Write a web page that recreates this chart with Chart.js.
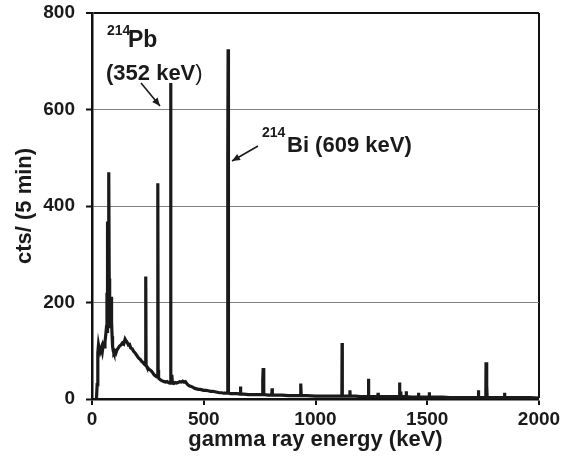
<!DOCTYPE html>
<html>
<head>
<meta charset="utf-8">
<script src="https://cdn.jsdelivr.net/npm/chart.js@4.4.1/dist/chart.umd.min.js"></script>
<style>
html,body{margin:0;padding:0;background:#fff;}
#wrap{width:565px;height:461px;position:relative;}
</style>
</head>
<body>
<div id="wrap"><canvas id="c" width="565" height="461"></canvas></div>
<script>
// Energies (keV) and counts per 5 min (10 values per line)
const energies = [
  20, 23, 26, 29, 32, 35, 38, 42, 46, 50,
  54, 58, 62, 65, 67, 68, 69, 70, 72, 74,
  75, 76, 77, 79, 81, 83, 86, 87, 88, 90,
  92, 95, 98, 102, 107, 112, 118, 124, 130, 136,
  142, 148, 153, 158, 163, 168, 173, 180, 186, 192,
  198, 204, 210, 216, 222, 228, 234, 239, 240, 241,
  242, 244, 248, 254, 260, 266, 272, 278, 284, 290,
  293, 294, 295, 296, 298, 300, 306, 312, 318, 324,
  330, 336, 342, 348, 351, 352, 353, 355, 357, 360,
  366, 372, 378, 385, 392, 400, 406, 412, 418, 424,
  430, 437, 444, 452, 460, 468, 476, 484, 492, 500,
  510, 520, 530, 540, 550, 560, 570, 580, 590, 600,
  606, 607, 608, 609, 610, 611, 613, 620, 635, 650,
  663, 664, 665, 666, 680, 700, 720, 740, 760, 763,
  764, 766, 768, 769, 790, 804, 805, 806, 807, 830,
  850, 880, 910, 932, 933, 935, 936, 960, 1000, 1030,
  1060, 1090, 1118, 1119, 1120, 1140, 1153, 1154, 1155, 1180,
  1200, 1220, 1235, 1236, 1238, 1239, 1260, 1279, 1280, 1281,
  1310, 1340, 1370, 1374, 1375, 1377, 1378, 1382, 1383, 1384,
  1405, 1406, 1407, 1430, 1460, 1461, 1462, 1480, 1508, 1509,
  1510, 1540, 1570, 1600, 1640, 1680, 1710, 1728, 1729, 1730,
  1750, 1762, 1763, 1765, 1767, 1768, 1790, 1820, 1845, 1846,
  1847, 1880, 1920, 1960, 2000
];
const counts = [
  0, 30, 95, 112, 104, 110, 100, 106, 98, 112,
  108, 118, 135, 150, 220, 140, 368, 160, 150, 180,
  300, 470, 250, 160, 150, 160, 175, 212, 160, 130,
  110, 100, 96, 99, 95, 102, 106, 110, 112, 116,
  114, 124, 120, 117, 112, 113, 106, 104, 99, 96,
  92, 88, 84, 82, 78, 76, 72, 70, 70, 254,
  70, 68, 66, 62, 60, 58, 54, 50, 48, 46,
  46, 80, 447, 60, 44, 42, 40, 38, 37, 36,
  35, 36, 34, 33, 33, 655, 33, 33, 50, 33,
  32, 34, 33, 34, 36, 35, 37, 35, 36, 32,
  29, 27, 26, 24, 22, 21, 20, 20, 19, 18,
  18, 17, 16, 16, 15, 14, 13, 13, 12, 12,
  12, 12, 505, 725, 505, 12, 12, 11, 11, 11,
  10, 10, 26, 10, 10, 9, 9, 9, 9, 9,
  40, 64, 64, 9, 8, 8, 8, 22, 8, 8,
  8, 7, 7, 7, 32, 32, 7, 7, 6, 6,
  6, 6, 6, 116, 6, 6, 6, 18, 6, 6,
  5, 5, 5, 42, 42, 5, 5, 5, 13, 5,
  5, 5, 5, 5, 34, 34, 12, 12, 5, 5,
  5, 16, 5, 4, 4, 13, 4, 4, 4, 14,
  4, 4, 4, 3, 3, 3, 3, 3, 18, 3,
  3, 3, 76, 76, 30, 3, 3, 3, 3, 13,
  3, 3, 3, 3, 2
];
const xTicks = [0, 500, 1000, 1500, 2000];
const yTicks = [0, 200, 400, 600, 800];

const points = energies.map((e, i) => ({x: e, y: counts[i]}));
const FONT = '"Liberation Sans", Arial, Helvetica, sans-serif';

function arrow(ctx, x1, y1, x2, y2) {
  ctx.beginPath();
  ctx.moveTo(x1, y1);
  ctx.lineTo(x2, y2);
  ctx.stroke();
  const a = Math.atan2(y2 - y1, x2 - x1);
  const L = 8, W = 3.5;
  ctx.beginPath();
  ctx.moveTo(x2, y2);
  ctx.lineTo(x2 - L * Math.cos(a) + W * Math.sin(a), y2 - L * Math.sin(a) - W * Math.cos(a));
  ctx.lineTo(x2 - L * Math.cos(a) - W * Math.sin(a), y2 - L * Math.sin(a) + W * Math.cos(a));
  ctx.closePath();
  ctx.fill();
}

const labels = {
  id: 'labels',
  afterDraw(chart) {
    const ctx = chart.ctx;
    ctx.save();
    ctx.fillStyle = '#1a1a1a';
    ctx.strokeStyle = '#1a1a1a';
    ctx.textBaseline = 'alphabetic';
    ctx.textAlign = 'left';
    // 214Pb (352 keV)
    ctx.font = 'bold 14px ' + FONT;
    ctx.fillText('214', 107, 35);
    ctx.font = 'bold 23px ' + FONT;
    ctx.fillText('Pb', 128, 47);
    ctx.font = 'bold 22px ' + FONT;
    ctx.fillText('(352 keV', 106, 80);
    const w = ctx.measureText('(352 keV').width;
    ctx.font = '22px ' + FONT;
    ctx.fillText(')', 106 + w, 80);
    // 214Bi (609 keV)
    ctx.font = 'bold 14px ' + FONT;
    ctx.fillText('214', 262, 137);
    ctx.font = 'bold 22px ' + FONT;
    ctx.fillText('Bi (609 keV)', 287, 152);
    // arrows
    ctx.lineWidth = 1.6;
    arrow(ctx, 141, 83, 160, 106);
    arrow(ctx, 258, 146, 232, 161);
    ctx.restore();
  }
};

new Chart(document.getElementById('c'), {
  type: 'line',
  data: {
    datasets: [{
      data: points,
      borderColor: '#1a1a1a',
      borderWidth: 3.2,
      pointRadius: 0,
      tension: 0,
      fill: false
    }]
  },
  options: {
    responsive: false,
    animation: false,
    events: [],
    layout: {padding: {top: 13, right: 26, left: 0, bottom: 0}},
    plugins: {legend: {display: false}, tooltip: {enabled: false}},
    scales: {
      x: {
        type: 'linear',
        min: 0, max: 2000,
        afterBuildTicks(s) { s.ticks = xTicks.map(v => ({value: v})); },
        afterFit(s) { s.height = 62; s.paddingLeft = 0; s.paddingRight = 0; },
        border: {display: true, color: '#111', width: 2.5},
        grid: {
          drawOnChartArea: true,
          color: c => (c.tick && c.tick.value === 2000) ? '#111' : 'rgba(0,0,0,0)',
          lineWidth: c => (c.tick && c.tick.value === 2000) ? 2 : 0,
          tickColor: '#111',
          tickWidth: 2,
          tickLength: 6
        },
        ticks: {
          color: '#1a1a1a',
          padding: 3,
          maxRotation: 0,
          callback: v => String(v),
          font: {family: FONT, size: 19, weight: 'bold'}
        },
        title: {
          display: true,
          text: 'gamma ray energy (keV)',
          color: '#1a1a1a',
          padding: {top: 0, bottom: 8},
          font: {family: FONT, size: 22, weight: 'bold'}
        }
      },
      y: {
        type: 'linear',
        min: 0, max: 800,
        afterBuildTicks(s) { s.ticks = yTicks.map(v => ({value: v})); },
        afterFit(s) { s.width = 92; s.paddingTop = 0; s.paddingBottom = 0; },
        border: {display: true, color: '#111', width: 2.5},
        grid: {
          color: c => (c.tick && c.tick.value === 800) ? '#111' : '#808080',
          lineWidth: c => (c.tick && c.tick.value === 800) ? 2 : 1,
          tickColor: '#111',
          tickWidth: 2,
          tickLength: 6
        },
        ticks: {
          color: '#1a1a1a',
          padding: 11,
          callback: v => String(v),
          font: {family: FONT, size: 19, weight: 'bold'}
        },
        title: {
          display: true,
          text: 'cts/ (5 min)',
          color: '#1a1a1a',
          padding: {top: 12, bottom: 0},
          font: {family: FONT, size: 22, weight: 'bold'}
        }
      }
    }
  },
  plugins: [labels]
});
</script>
</body>
</html>
